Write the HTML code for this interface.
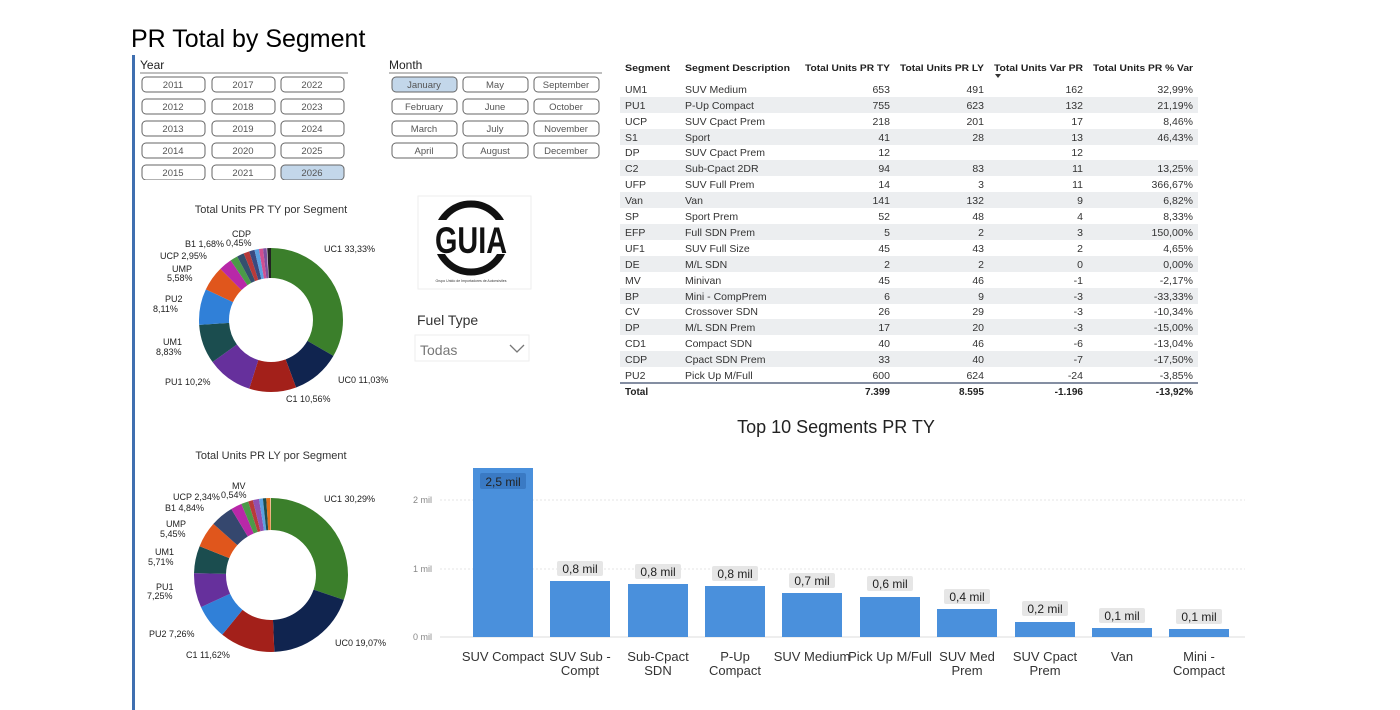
<!DOCTYPE html>
<html><head><meta charset="utf-8"><style>
body{margin:0;background:#fff;width:1400px;height:710px;overflow:hidden}
svg{display:block;font-family:"Liberation Sans",sans-serif}
</style></head><body>
<svg width="1400" height="710" viewBox="0 0 1400 710">
<rect width="1400" height="710" fill="#fff"/>
<text x="131" y="47" font-size="25" fill="#000">PR Total by Segment</text>
<rect x="132" y="55" width="3" height="655" fill="#3f6fb0"/>

<!-- Year slicer -->
<text x="140" y="69" font-size="12" fill="#222">Year</text>
<line x1="140" y1="73" x2="348" y2="73" stroke="#aaa" stroke-width="1.5"/>
<g font-size="9.5" fill="#555" text-anchor="middle" stroke-width="1">
<g fill="none" stroke="#666">
<rect x="142" y="77" width="63" height="15" rx="4"/><rect x="212" y="77" width="63" height="15" rx="4"/><rect x="281" y="77" width="63" height="15" rx="4"/>
<rect x="142" y="99" width="63" height="15" rx="4"/><rect x="212" y="99" width="63" height="15" rx="4"/><rect x="281" y="99" width="63" height="15" rx="4"/>
<rect x="142" y="121" width="63" height="15" rx="4"/><rect x="212" y="121" width="63" height="15" rx="4"/><rect x="281" y="121" width="63" height="15" rx="4"/>
<rect x="142" y="143" width="63" height="15" rx="4"/><rect x="212" y="143" width="63" height="15" rx="4"/><rect x="281" y="143" width="63" height="15" rx="4"/>
<rect x="142" y="165" width="63" height="15" rx="4"/><rect x="212" y="165" width="63" height="15" rx="4"/><rect x="281" y="165" width="63" height="15" rx="4" fill="#c3d7ea"/>
</g>
<text x="173" y="88">2011</text><text x="243" y="88">2017</text><text x="312" y="88">2022</text>
<text x="173" y="110">2012</text><text x="243" y="110">2018</text><text x="312" y="110">2023</text>
<text x="173" y="132">2013</text><text x="243" y="132">2019</text><text x="312" y="132">2024</text>
<text x="173" y="154">2014</text><text x="243" y="154">2020</text><text x="312" y="154">2025</text>
<text x="173" y="176">2015</text><text x="243" y="176">2021</text><text x="312" y="176">2026</text>
</g>
<rect x="136" y="180" width="220" height="10" fill="#fff"/>

<!-- Month slicer -->
<text x="389" y="69" font-size="12" fill="#222">Month</text>
<line x1="389" y1="73" x2="602" y2="73" stroke="#aaa" stroke-width="1.5"/>
<g font-size="9.5" fill="#555" text-anchor="middle">
<g fill="none" stroke="#666">
<rect x="392" y="77" width="65" height="15" rx="4" fill="#c3d7ea"/><rect x="463" y="77" width="65" height="15" rx="4"/><rect x="534" y="77" width="65" height="15" rx="4"/>
<rect x="392" y="99" width="65" height="15" rx="4"/><rect x="463" y="99" width="65" height="15" rx="4"/><rect x="534" y="99" width="65" height="15" rx="4"/>
<rect x="392" y="121" width="65" height="15" rx="4"/><rect x="463" y="121" width="65" height="15" rx="4"/><rect x="534" y="121" width="65" height="15" rx="4"/>
<rect x="392" y="143" width="65" height="15" rx="4"/><rect x="463" y="143" width="65" height="15" rx="4"/><rect x="534" y="143" width="65" height="15" rx="4"/>
</g>
<text x="424" y="88">January</text><text x="495" y="88">May</text><text x="566" y="88">September</text>
<text x="424" y="110">February</text><text x="495" y="110">June</text><text x="566" y="110">October</text>
<text x="424" y="132">March</text><text x="495" y="132">July</text><text x="566" y="132">November</text>
<text x="424" y="154">April</text><text x="495" y="154">August</text><text x="566" y="154">December</text>
</g>

<!-- Logo -->
<rect x="418" y="196" width="113" height="93" fill="#fff" stroke="#eee"/>
<circle cx="471" cy="238" r="34" fill="none" stroke="#111" stroke-width="7"/>
<rect x="430" y="220" width="84" height="34" fill="#fff"/>
<text x="0" y="0" font-size="30" font-weight="bold" text-anchor="middle" fill="#111" textLength="72" lengthAdjust="spacingAndGlyphs" transform="translate(471 253) scale(1 1.25)">GUIA</text>
<text x="471" y="282" font-size="3.5" text-anchor="middle" fill="#333">Grupo Unido de Importadores de Automóviles</text>

<text x="417" y="325" font-size="14" fill="#333">Fuel Type</text>
<rect x="415" y="335" width="114" height="26" fill="#fff" stroke="#eee"/>
<text x="420" y="355" font-size="14" fill="#777">Todas</text>
<polyline points="510,345 517,352 524,345" fill="none" stroke="#777" stroke-width="1.3"/>

<!-- Donut 1 -->
<text x="271" y="213" font-size="11" fill="#333" text-anchor="middle">Total Units PR TY por Segment</text>
<g transform="rotate(-90 271 320)" fill="none" stroke-width="30">
<circle cx="271" cy="320" r="57" pathLength="100" stroke="#3b7f2b" stroke-dasharray="33.33 100" stroke-dashoffset="0"/>
<circle cx="271" cy="320" r="57" pathLength="100" stroke="#10244f" stroke-dasharray="11.03 100" stroke-dashoffset="-33.33"/>
<circle cx="271" cy="320" r="57" pathLength="100" stroke="#a3201a" stroke-dasharray="10.56 100" stroke-dashoffset="-44.36"/>
<circle cx="271" cy="320" r="57" pathLength="100" stroke="#66309c" stroke-dasharray="10.2 100" stroke-dashoffset="-54.92"/>
<circle cx="271" cy="320" r="57" pathLength="100" stroke="#1b4d4f" stroke-dasharray="8.83 100" stroke-dashoffset="-65.12"/>
<circle cx="271" cy="320" r="57" pathLength="100" stroke="#3080d8" stroke-dasharray="8.11 100" stroke-dashoffset="-73.95"/>
<circle cx="271" cy="320" r="57" pathLength="100" stroke="#e0561c" stroke-dasharray="5.58 100" stroke-dashoffset="-82.06"/>
<circle cx="271" cy="320" r="57" pathLength="100" stroke="#b828a8" stroke-dasharray="2.95 100" stroke-dashoffset="-87.64"/>
<circle cx="271" cy="320" r="57" pathLength="100" stroke="#4b9a48" stroke-dasharray="1.68 100" stroke-dashoffset="-90.59"/>
<circle cx="271" cy="320" r="57" pathLength="100" stroke="#34506e" stroke-dasharray="1.6 100" stroke-dashoffset="-92.27"/>
<circle cx="271" cy="320" r="57" pathLength="100" stroke="#b83a3a" stroke-dasharray="1.3 100" stroke-dashoffset="-93.87"/>
<circle cx="271" cy="320" r="57" pathLength="100" stroke="#3a4a80" stroke-dasharray="1.2 100" stroke-dashoffset="-95.17"/>
<circle cx="271" cy="320" r="57" pathLength="100" stroke="#5aa0e0" stroke-dasharray="1.0 100" stroke-dashoffset="-96.37"/>
<circle cx="271" cy="320" r="57" pathLength="100" stroke="#d05090" stroke-dasharray="0.9 100" stroke-dashoffset="-97.37"/>
<circle cx="271" cy="320" r="57" pathLength="100" stroke="#8050a0" stroke-dasharray="0.8 100" stroke-dashoffset="-98.27"/>
<circle cx="271" cy="320" r="57" pathLength="100" stroke="#222" stroke-dasharray="0.93 100" stroke-dashoffset="-99.2"/>
</g>
<g font-size="9" fill="#222">
<text x="324" y="252">UC1 33,33%</text>
<text x="338" y="383">UC0 11,03%</text>
<text x="286" y="402">C1 10,56%</text>
<text x="165" y="385">PU1 10,2%</text>
<text x="163" y="345">UM1</text><text x="156" y="355">8,83%</text>
<text x="165" y="302">PU2</text><text x="153" y="312">8,11%</text>
<text x="172" y="272">UMP</text><text x="167" y="281">5,58%</text>
<text x="160" y="259">UCP 2,95%</text>
<text x="185" y="247">B1 1,68%</text>
<text x="232" y="237">CDP</text><text x="226" y="246">0,45%</text>
</g>

<!-- Donut 2 -->
<text x="271" y="459" font-size="11" fill="#333" text-anchor="middle">Total Units PR LY por Segment</text>
<g transform="rotate(-90 271 575)" fill="none" stroke-width="32">
<circle cx="271" cy="575" r="61" pathLength="100" stroke="#3b7f2b" stroke-dasharray="30.29 100" stroke-dashoffset="0"/>
<circle cx="271" cy="575" r="61" pathLength="100" stroke="#10244f" stroke-dasharray="19.07 100" stroke-dashoffset="-30.29"/>
<circle cx="271" cy="575" r="61" pathLength="100" stroke="#a3201a" stroke-dasharray="11.62 100" stroke-dashoffset="-49.36"/>
<circle cx="271" cy="575" r="61" pathLength="100" stroke="#3080d8" stroke-dasharray="7.26 100" stroke-dashoffset="-60.98"/>
<circle cx="271" cy="575" r="61" pathLength="100" stroke="#66309c" stroke-dasharray="7.25 100" stroke-dashoffset="-68.24"/>
<circle cx="271" cy="575" r="61" pathLength="100" stroke="#1b4d4f" stroke-dasharray="5.71 100" stroke-dashoffset="-75.49"/>
<circle cx="271" cy="575" r="61" pathLength="100" stroke="#e0561c" stroke-dasharray="5.45 100" stroke-dashoffset="-81.2"/>
<circle cx="271" cy="575" r="61" pathLength="100" stroke="#35476e" stroke-dasharray="4.84 100" stroke-dashoffset="-86.65"/>
<circle cx="271" cy="575" r="61" pathLength="100" stroke="#b828a8" stroke-dasharray="2.34 100" stroke-dashoffset="-91.49"/>
<circle cx="271" cy="575" r="61" pathLength="100" stroke="#4b9a48" stroke-dasharray="1.5 100" stroke-dashoffset="-93.83"/>
<circle cx="271" cy="575" r="61" pathLength="100" stroke="#b83a3a" stroke-dasharray="1.0 100" stroke-dashoffset="-95.33"/>
<circle cx="271" cy="575" r="61" pathLength="100" stroke="#9050b0" stroke-dasharray="1.3 100" stroke-dashoffset="-96.33"/>
<circle cx="271" cy="575" r="61" pathLength="100" stroke="#5aa0e0" stroke-dasharray="0.8 100" stroke-dashoffset="-97.63"/>
<circle cx="271" cy="575" r="61" pathLength="100" stroke="#1b4d4f" stroke-dasharray="0.7 100" stroke-dashoffset="-98.43"/>
<circle cx="271" cy="575" r="61" pathLength="100" stroke="#e0701c" stroke-dasharray="0.87 100" stroke-dashoffset="-99.13"/>
</g>
<g font-size="9" fill="#222">
<text x="324" y="502">UC1 30,29%</text>
<text x="335" y="646">UC0 19,07%</text>
<text x="186" y="658">C1 11,62%</text>
<text x="149" y="637">PU2 7,26%</text>
<text x="156" y="590">PU1</text><text x="147" y="599">7,25%</text>
<text x="155" y="555">UM1</text><text x="148" y="565">5,71%</text>
<text x="166" y="527">UMP</text><text x="160" y="537">5,45%</text>
<text x="165" y="511">B1 4,84%</text>
<text x="173" y="500">UCP 2,34%</text>
<text x="232" y="489">MV</text><text x="221" y="498">0,54%</text>
</g>

<!-- Table -->
<g font-size="10.5" fill="#333">
<g font-weight="bold" fill="#222" font-size="9.5">
<text x="625" y="71" textLength="45" lengthAdjust="spacingAndGlyphs">Segment</text>
<text x="685" y="71" textLength="105" lengthAdjust="spacingAndGlyphs">Segment Description</text>
<text x="805" y="71" textLength="85" lengthAdjust="spacingAndGlyphs">Total Units PR TY</text>
<text x="900" y="71" textLength="84" lengthAdjust="spacingAndGlyphs">Total Units PR LY</text>
<text x="994" y="71" textLength="89" lengthAdjust="spacingAndGlyphs">Total Units Var PR</text>
<text x="1093" y="71" textLength="100" lengthAdjust="spacingAndGlyphs">Total Units PR % Var</text>
</g>
<polygon points="995,74 1001,74 998,78" fill="#333"/>
<g fill="#eceef0">
<rect x="620" y="97" width="578" height="16"/><rect x="620" y="129" width="578" height="16"/>
<rect x="620" y="160" width="578" height="16"/><rect x="620" y="192" width="578" height="16"/>
<rect x="620" y="224" width="578" height="16"/><rect x="620" y="256" width="578" height="16"/>
<rect x="620" y="288" width="578" height="16"/><rect x="620" y="319" width="578" height="16"/>
<rect x="620" y="351" width="578" height="16"/>
</g>
<g>
<text x="625" y="93">UM1</text><text x="685" y="93">SUV Medium</text><text x="890" y="93" text-anchor="end">653</text><text x="984" y="93" text-anchor="end">491</text><text x="1083" y="93" text-anchor="end">162</text><text x="1193" y="93" text-anchor="end">32,99%</text>
<text x="625" y="109">PU1</text><text x="685" y="109">P-Up Compact</text><text x="890" y="109" text-anchor="end">755</text><text x="984" y="109" text-anchor="end">623</text><text x="1083" y="109" text-anchor="end">132</text><text x="1193" y="109" text-anchor="end">21,19%</text>
<text x="625" y="125">UCP</text><text x="685" y="125">SUV Cpact Prem</text><text x="890" y="125" text-anchor="end">218</text><text x="984" y="125" text-anchor="end">201</text><text x="1083" y="125" text-anchor="end">17</text><text x="1193" y="125" text-anchor="end">8,46%</text>
<text x="625" y="141">S1</text><text x="685" y="141">Sport</text><text x="890" y="141" text-anchor="end">41</text><text x="984" y="141" text-anchor="end">28</text><text x="1083" y="141" text-anchor="end">13</text><text x="1193" y="141" text-anchor="end">46,43%</text>
<text x="625" y="156">DP</text><text x="685" y="156">SUV Cpact Prem</text><text x="890" y="156" text-anchor="end">12</text><text x="1083" y="156" text-anchor="end">12</text>
<text x="625" y="172">C2</text><text x="685" y="172">Sub-Cpact 2DR</text><text x="890" y="172" text-anchor="end">94</text><text x="984" y="172" text-anchor="end">83</text><text x="1083" y="172" text-anchor="end">11</text><text x="1193" y="172" text-anchor="end">13,25%</text>
<text x="625" y="188">UFP</text><text x="685" y="188">SUV Full Prem</text><text x="890" y="188" text-anchor="end">14</text><text x="984" y="188" text-anchor="end">3</text><text x="1083" y="188" text-anchor="end">11</text><text x="1193" y="188" text-anchor="end">366,67%</text>
<text x="625" y="204">Van</text><text x="685" y="204">Van</text><text x="890" y="204" text-anchor="end">141</text><text x="984" y="204" text-anchor="end">132</text><text x="1083" y="204" text-anchor="end">9</text><text x="1193" y="204" text-anchor="end">6,82%</text>
<text x="625" y="220">SP</text><text x="685" y="220">Sport Prem</text><text x="890" y="220" text-anchor="end">52</text><text x="984" y="220" text-anchor="end">48</text><text x="1083" y="220" text-anchor="end">4</text><text x="1193" y="220" text-anchor="end">8,33%</text>
<text x="625" y="236">EFP</text><text x="685" y="236">Full SDN Prem</text><text x="890" y="236" text-anchor="end">5</text><text x="984" y="236" text-anchor="end">2</text><text x="1083" y="236" text-anchor="end">3</text><text x="1193" y="236" text-anchor="end">150,00%</text>
<text x="625" y="252">UF1</text><text x="685" y="252">SUV Full Size</text><text x="890" y="252" text-anchor="end">45</text><text x="984" y="252" text-anchor="end">43</text><text x="1083" y="252" text-anchor="end">2</text><text x="1193" y="252" text-anchor="end">4,65%</text>
<text x="625" y="268">DE</text><text x="685" y="268">M/L SDN</text><text x="890" y="268" text-anchor="end">2</text><text x="984" y="268" text-anchor="end">2</text><text x="1083" y="268" text-anchor="end">0</text><text x="1193" y="268" text-anchor="end">0,00%</text>
<text x="625" y="284">MV</text><text x="685" y="284">Minivan</text><text x="890" y="284" text-anchor="end">45</text><text x="984" y="284" text-anchor="end">46</text><text x="1083" y="284" text-anchor="end">-1</text><text x="1193" y="284" text-anchor="end">-2,17%</text>
<text x="625" y="300">BP</text><text x="685" y="300">Mini - CompPrem</text><text x="890" y="300" text-anchor="end">6</text><text x="984" y="300" text-anchor="end">9</text><text x="1083" y="300" text-anchor="end">-3</text><text x="1193" y="300" text-anchor="end">-33,33%</text>
<text x="625" y="315">CV</text><text x="685" y="315">Crossover SDN</text><text x="890" y="315" text-anchor="end">26</text><text x="984" y="315" text-anchor="end">29</text><text x="1083" y="315" text-anchor="end">-3</text><text x="1193" y="315" text-anchor="end">-10,34%</text>
<text x="625" y="331">DP</text><text x="685" y="331">M/L SDN Prem</text><text x="890" y="331" text-anchor="end">17</text><text x="984" y="331" text-anchor="end">20</text><text x="1083" y="331" text-anchor="end">-3</text><text x="1193" y="331" text-anchor="end">-15,00%</text>
<text x="625" y="347">CD1</text><text x="685" y="347">Compact SDN</text><text x="890" y="347" text-anchor="end">40</text><text x="984" y="347" text-anchor="end">46</text><text x="1083" y="347" text-anchor="end">-6</text><text x="1193" y="347" text-anchor="end">-13,04%</text>
<text x="625" y="363">CDP</text><text x="685" y="363">Cpact SDN Prem</text><text x="890" y="363" text-anchor="end">33</text><text x="984" y="363" text-anchor="end">40</text><text x="1083" y="363" text-anchor="end">-7</text><text x="1193" y="363" text-anchor="end">-17,50%</text>
<text x="625" y="379">PU2</text><text x="685" y="379">Pick Up M/Full</text><text x="890" y="379" text-anchor="end">600</text><text x="984" y="379" text-anchor="end">624</text><text x="1083" y="379" text-anchor="end">-24</text><text x="1193" y="379" text-anchor="end">-3,85%</text>
</g>
<line x1="620" y1="383" x2="1198" y2="383" stroke="#3a4a6a" stroke-width="1.2"/>
<g font-weight="bold" fill="#222" font-size="10">
<text x="625" y="395">Total</text><text x="890" y="395" text-anchor="end">7.399</text><text x="984" y="395" text-anchor="end">8.595</text><text x="1083" y="395" text-anchor="end">-1.196</text><text x="1193" y="395" text-anchor="end">-13,92%</text>
</g>
</g>

<!-- Bar chart -->
<text x="836" y="433" font-size="18" fill="#222" text-anchor="middle">Top 10 Segments PR TY</text>
<g stroke="#e4e4e4" stroke-dasharray="2 2">
<line x1="440" y1="500" x2="1245" y2="500"/><line x1="440" y1="569" x2="1245" y2="569"/>
</g>
<line x1="440" y1="637" x2="1245" y2="637" stroke="#ddd"/>
<g font-size="9" fill="#888"><text x="413" y="503">2 mil</text><text x="413" y="572">1 mil</text><text x="413" y="640">0 mil</text></g>
<g fill="#4a90dc">
<rect x="473" y="468" width="60" height="169"/>
<rect x="550" y="581" width="60" height="56"/>
<rect x="628" y="584" width="60" height="53"/>
<rect x="705" y="586" width="60" height="51"/>
<rect x="782" y="593" width="60" height="44"/>
<rect x="860" y="597" width="60" height="40"/>
<rect x="937" y="609" width="60" height="28"/>
<rect x="1015" y="622" width="60" height="15"/>
<rect x="1092" y="628" width="60" height="9"/>
<rect x="1169" y="629" width="60" height="8"/>
</g>
<g fill="#e6e6e6">
<rect x="480" y="473" width="46" height="16" rx="2" fill="#3a7ac4"/>
<rect x="557" y="561" width="46" height="15" rx="2"/>
<rect x="635" y="564" width="46" height="15" rx="2"/>
<rect x="712" y="566" width="46" height="15" rx="2"/>
<rect x="789" y="573" width="46" height="15" rx="2"/>
<rect x="867" y="576" width="46" height="15" rx="2"/>
<rect x="944" y="589" width="46" height="15" rx="2"/>
<rect x="1022" y="601" width="46" height="15" rx="2"/>
<rect x="1099" y="608" width="46" height="15" rx="2"/>
<rect x="1176" y="609" width="46" height="15" rx="2"/>
</g>
<g font-size="12" fill="#222" text-anchor="middle">
<text x="503" y="486">2,5 mil</text>
<text x="580" y="573">0,8 mil</text><text x="658" y="576">0,8 mil</text><text x="735" y="578">0,8 mil</text>
<text x="812" y="585">0,7 mil</text><text x="890" y="588">0,6 mil</text><text x="967" y="601">0,4 mil</text>
<text x="1045" y="613">0,2 mil</text><text x="1122" y="620">0,1 mil</text><text x="1199" y="621">0,1 mil</text>
</g>
<g font-size="13" fill="#333" text-anchor="middle">
<text x="503" y="661">SUV Compact</text>
<text x="580" y="661">SUV Sub -</text><text x="580" y="675">Compt</text>
<text x="658" y="661">Sub-Cpact</text><text x="658" y="675">SDN</text>
<text x="735" y="661">P-Up</text><text x="735" y="675">Compact</text>
<text x="812" y="661">SUV Medium</text>
<text x="890" y="661">Pick Up M/Full</text>
<text x="967" y="661">SUV Med</text><text x="967" y="675">Prem</text>
<text x="1045" y="661">SUV Cpact</text><text x="1045" y="675">Prem</text>
<text x="1122" y="661">Van</text>
<text x="1199" y="661">Mini -</text><text x="1199" y="675">Compact</text>
</g>
</svg>
</body></html>
